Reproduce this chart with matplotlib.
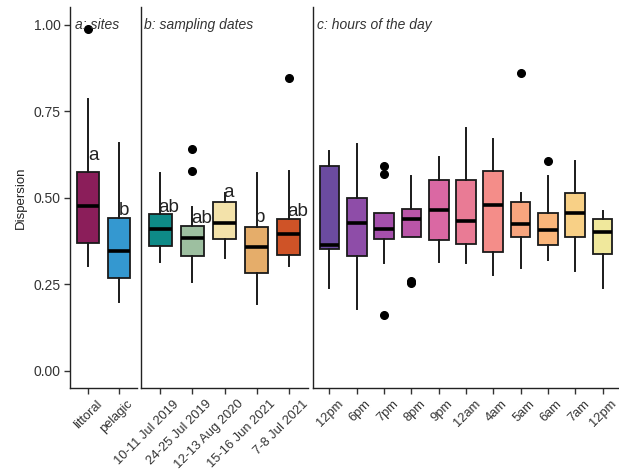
import matplotlib
matplotlib.use("Agg")
import matplotlib.pyplot as plt
import matplotlib.transforms as mtransforms

plt.rcParams['font.family'] = ['Liberation Sans', 'DejaVu Sans']

# ---------------- data ----------------
site_labels = ["littoral", "pelagic"]
site_whislo = [0.304, 0.200]
site_q1 = [0.370, 0.269]
site_med = [0.477, 0.346]
site_q3 = [0.574, 0.443]
site_whishi = [0.785, 0.660]
site_fliers = [[0.987], []]
site_colors = ["#8B1E5A", "#3498D0"]
site_letters = ["a", "b"]
site_letter_y = [0.609, 0.450]

date_labels = ["10-11 Jul 2019", "24-25 Jul 2019", "12-13 Aug 2020", "15-16 Jun 2021", "7-8 Jul 2021"]
date_whislo = [0.313, 0.257, 0.325, 0.193, 0.303]
date_q1 = [0.362, 0.332, 0.380, 0.282, 0.336]
date_med = [0.410, 0.385, 0.426, 0.359, 0.394]
date_q3 = [0.452, 0.419, 0.487, 0.416, 0.438]
date_whishi = [0.573, 0.474, 0.513, 0.573, 0.578]
date_fliers = [[], [0.641, 0.579], [], [], [0.846]]
date_colors = ["#0E8A87", "#9DBFA0", "#F3E2AA", "#E5AD6A", "#CF5327"]
date_letters = ["ab", "ab", "a", "b", "ab"]
date_letter_y = [0.458, 0.428, 0.502, 0.429, 0.448]

hour_labels = ["12pm", "6pm", "7pm", "8pm", "9pm", "12am", "4am", "5am", "6am", "7am", "12pm"]
hour_whislo = [0.240, 0.178, 0.311, 0.387, 0.313, 0.312, 0.276, 0.298, 0.320, 0.288, 0.239]
hour_q1 = [0.352, 0.332, 0.380, 0.387, 0.378, 0.366, 0.342, 0.387, 0.365, 0.387, 0.337]
hour_med = [0.364, 0.428, 0.411, 0.439, 0.466, 0.432, 0.478, 0.425, 0.407, 0.457, 0.401]
hour_q3 = [0.593, 0.501, 0.457, 0.469, 0.552, 0.552, 0.579, 0.489, 0.455, 0.514, 0.438]
hour_whishi = [0.636, 0.655, 0.457, 0.564, 0.619, 0.701, 0.670, 0.513, 0.563, 0.608, 0.463]
hour_fliers = [[], [], [0.592, 0.569, 0.161], [0.260, 0.255], [], [], [], [0.862], [0.607], [], []]
hour_colors = ["#6B4BA0", "#8E4DA8", "#A550AC", "#BA55A8", "#DA68A3", "#E97B95",
               "#F48D89", "#F8A57E", "#F9B57A", "#F8D086", "#F0E89C"]

panel_titles = ["a: sites", "b: sampling dates", "c: hours of the day"]

# ---------------- figure ----------------
W, H = 619, 470
fig = plt.figure(figsize=(W / 100, H / 100), dpi=100)

bottom_px, top_px = 388, 7
def axes_rect(x0, x1):
    return [x0 / W, (H - bottom_px) / H, (x1 - x0) / W, (bottom_px - top_px) / H]

ax1 = fig.add_axes(axes_rect(70, 137))
ax2 = fig.add_axes(axes_rect(141, 308))
ax3 = fig.add_axes(axes_rect(313, 619))

text_col = "#333333"
edge_col = "#1A1A1A"

def draw(ax, labels, wlo, q1, med, q3, whi, fliers, colors, shift_px):
    stats = []
    for i, lab in enumerate(labels):
        stats.append(dict(label=lab, whislo=wlo[i], q1=q1[i], med=med[i],
                          q3=q3[i], whishi=whi[i], fliers=fliers[i]))
    pos = list(range(1, len(labels) + 1))
    bp = ax.bxp(stats, positions=pos, widths=0.72, patch_artist=True,
                showcaps=False, showfliers=True,
                boxprops=dict(edgecolor=edge_col, linewidth=1.3),
                medianprops=dict(color="black", linewidth=2.6, solid_capstyle="butt"),
                whiskerprops=dict(color=edge_col, linewidth=1.4),
                flierprops=dict(marker="o", markerfacecolor="black",
                                markeredgecolor="black", markersize=5.5))
    for patch, c in zip(bp["boxes"], colors):
        patch.set_facecolor(c)
    ax.set_xlim(0.4, len(labels) + 0.6)
    ax.set_ylim(-0.05, 1.052)
    ax.set_xticks(pos)
    ax.set_xticklabels([""] * len(labels))
    shift = mtransforms.ScaledTranslation(shift_px / 100, -0.10, fig.dpi_scale_trans)
    tr = ax.get_xaxis_transform() + shift
    for p, lab in zip(pos, labels):
        ax.text(p, 0, lab, transform=tr, rotation=45, ha="right", va="top",
                rotation_mode="anchor", fontsize=9.3, color=text_col, clip_on=False)
    for s in ["top", "right"]:
        ax.spines[s].set_visible(False)
    for s in ["left", "bottom"]:
        ax.spines[s].set_linewidth(1.0)
        ax.spines[s].set_color("#222222")
    ax.tick_params(axis="x", length=4, width=1.0, color="#333333", pad=3)
    ax.set_facecolor("none")

draw(ax1, site_labels, site_whislo, site_q1, site_med, site_q3, site_whishi, site_fliers, site_colors, 8)
draw(ax2, date_labels, date_whislo, date_q1, date_med, date_q3, date_whishi, date_fliers, date_colors, 13)
draw(ax3, hour_labels, hour_whislo, hour_q1, hour_med, hour_q3, hour_whishi, hour_fliers, hour_colors, 8)

ax1.set_yticks([0.0, 0.25, 0.5, 0.75, 1.0])
ax1.set_yticklabels(["0.00", "0.25", "0.50", "0.75", "1.00"], fontsize=10, color=text_col)
ax1.tick_params(axis="y", length=4, width=1.0, color="#333333", pad=2.5)
ax1.set_ylabel("Dispersion", fontsize=9.5, color="#222222", labelpad=5)
for ax in (ax2, ax3):
    ax.set_yticks([])

# significance letters
for i, (lt, y) in enumerate(zip(site_letters, site_letter_y)):
    ax1.text(i + 1, y, lt, ha="left", va="baseline", fontsize=13.5, color="#222222")
for i, (lt, y) in enumerate(zip(date_letters, date_letter_y)):
    ax2.text(i + 1 - 0.05, y, lt, ha="left", va="baseline", fontsize=13.5, color="#222222")

# panel titles
offsets_px = [5, 3, 4]
for ax, t, off in zip((ax1, ax2, ax3), panel_titles, offsets_px):
    tr = mtransforms.blended_transform_factory(ax.transAxes, ax.transData)
    bb = ax.get_position()
    ax.text(off / (bb.width * W), 1.0, t, transform=tr, ha="left", va="center",
            fontsize=10, style="italic", color="#333333")

fig.savefig("out.png", dpi=100)
